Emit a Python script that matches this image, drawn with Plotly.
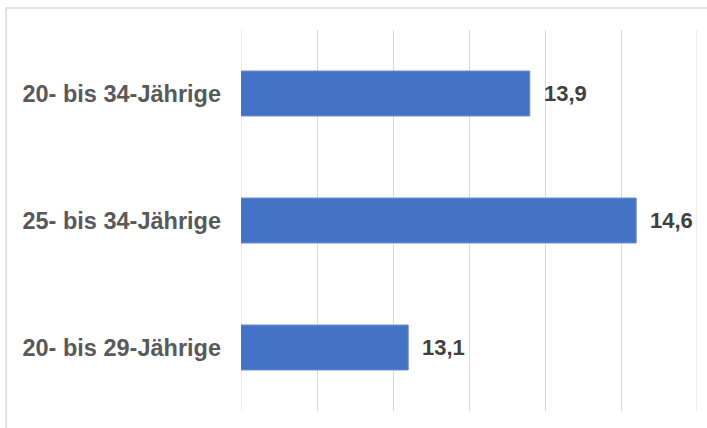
import plotly.graph_objects as go

categories = ["20- bis 34-Jährige", "25- bis 34-Jährige", "20- bis 29-Jährige"]
values = [13.9, 14.6, 13.1]
value_labels = ["13,9", "14,6", "13,1"]
x_min, x_max = 12, 15

fig = go.Figure()
fig.add_trace(go.Bar(
    x=values, y=categories, orientation="h",
    marker=dict(color="#4472C4", line=dict(color="#6b8fd0", width=1)),
    width=0.354,
    hoverinfo="skip",
))

for c, v, t in zip(categories, values, value_labels):
    fig.add_annotation(x=v, y=c, text=t, showarrow=False, xanchor="left", yanchor="middle",
                       xshift=12, font=dict(family="Liberation Sans", size=22, color="#404040", weight="bold"))

# edge gridlines (plotly omits gridlines at range edges)
for xv in (x_min, x_max):
    fig.add_shape(type="line", xref="x", yref="paper", x0=xv, x1=xv, y0=0, y1=1,
                  line=dict(color="#d9d9d9", width=1), layer="below")

# chart frame
fig.add_shape(type="rect", xref="paper", yref="paper", x0=-0.515, y0=-0.2, x1=1.2, y1=1.0577,
              line=dict(color="#d9d9d9", width=1.5), layer="below")

fig.update_layout(
    width=707, height=428,
    margin=dict(l=241, r=10, t=30, b=17),
    paper_bgcolor="white", plot_bgcolor="white",
    showlegend=False,
    xaxis=dict(range=[x_min, x_max], dtick=0.5, tick0=12, showgrid=True, gridcolor="#d9d9d9", gridwidth=1,
               showticklabels=False, zeroline=False, showline=False, fixedrange=True),
    yaxis=dict(autorange="reversed", showgrid=False, showline=False, zeroline=False,
               ticklabelstandoff=19,
               tickfont=dict(family="Liberation Sans", size=23.5, color="#595959", weight="bold")),
)

fig.write_html("out.html")
